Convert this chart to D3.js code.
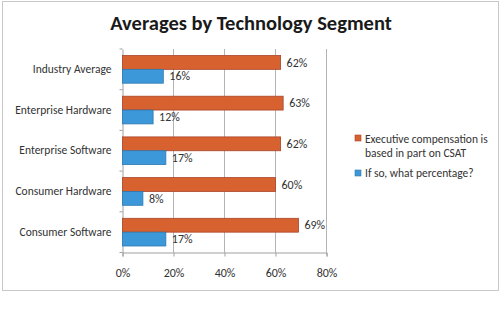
<!DOCTYPE html>
<html>
<head lang="en">
    <meta charset="UTF-8">
    <title>Averages by Technology Segment</title>
    <script type="text/javascript" src="https://cdnjs.cloudflare.com/ajax/libs/d3/7.8.5/d3.min.js"></script>
    <style>
        body { margin: 0; background: #fff; }
        svg { font-family: Carlito, Lato, "Open Sans", sans-serif; }
    </style>
</head>
<body>
<svg width="500" height="333"></svg>

<script>
    // categories, top to bottom
    var segments = ["Industry Average", "Enterprise Hardware", "Enterprise Software", "Consumer Hardware", "Consumer Software"];
    var csatBased = [62, 63, 62, 60, 69];
    var csatPercent = [16, 12, 17, 8, 17];
    var seriesNames = ["Executive compensation is based in part on CSAT", "If so, what percentage?"];
    var xTicks = [0, 20, 40, 60, 80];

    var colors = ["#d8622f", "#3c98d8"];
    var strokes = ["#a9442a", "#2d78b0"];

    var svg = d3.select("svg");

    // outer frame
    svg.append("rect")
            .attr("x", 2.5).attr("y", 1.5)
            .attr("width", 496).attr("height", 289)
            .attr("fill", "#fff")
            .attr("stroke", "#c8c8c8");

    svg.append("text")
            .attr("x", 251).attr("y", 30)
            .attr("text-anchor", "middle")
            .style("font-size", "20.5px")
            .style("font-weight", "bold")
            .attr("fill", "#1a1a1a")
            .text("Averages by Technology Segment");

    var plotLeft = 122.5, plotRight = 326.5, plotTop = 49, plotBottom = 252.5;

    var x = d3.scaleLinear().domain([0, 80]).range([plotLeft, plotRight]);
    var y = d3.scaleBand().domain(segments).range([plotTop, plotBottom]);
    var inner = d3.scaleBand().domain([0, 1]).range([0, y.bandwidth()]).paddingOuter(0.47);

    // gridlines
    svg.append("g").selectAll("line")
            .data(xTicks.slice(1))
            .enter().append("line")
            .attr("x1", function (d) { return x(d); })
            .attr("x2", function (d) { return x(d); })
            .attr("y1", plotTop).attr("y2", plotBottom)
            .attr("stroke", "#b4b4b4");

    var xAxis = svg.append("g")
            .attr("transform", "translate(0," + plotBottom + ")")
            .call(d3.axisBottom(x).tickValues(xTicks).tickSize(4).tickPadding(12)
                    .tickFormat(function (d) { return d + "%"; }));
    xAxis.select(".domain").attr("stroke", "#a0a0a0");
    xAxis.selectAll(".tick line").attr("stroke", "#a0a0a0");
    xAxis.selectAll("text").style("font-size", "12px").attr("fill", "#333");
    xAxis.attr("font-family", null).attr("font-size", null);

    var yAxis = svg.append("g")
            .attr("transform", "translate(" + plotLeft + ",0)")
            .call(d3.axisLeft(y).tickSize(0).tickPadding(11));
    yAxis.select(".domain").attr("stroke", "#a0a0a0");
    yAxis.selectAll("text").style("font-size", "11.5px").attr("fill", "#333");
    yAxis.attr("font-family", null).attr("font-size", null);

    // small ticks between categories
    svg.append("g").selectAll("line")
            .data(d3.range(segments.length + 1))
            .enter().append("line")
            .attr("x1", plotLeft - 3).attr("x2", plotLeft)
            .attr("y1", function (i) { return plotTop + i * y.step(); })
            .attr("y2", function (i) { return plotTop + i * y.step(); })
            .attr("stroke", "#a0a0a0");

    var series = [csatBased, csatPercent];
    series.forEach(function (vals, s) {
        var g = svg.append("g");
        g.selectAll("rect")
                .data(vals)
                .enter().append("rect")
                .attr("x", x(0))
                .attr("y", function (d, i) { return y(segments[i]) + inner(s); })
                .attr("width", function (d) { return x(d) - x(0); })
                .attr("height", inner.bandwidth())
                .attr("fill", colors[s])
                .attr("stroke", strokes[s])
                .attr("stroke-width", 0.8);
        g.selectAll("text")
                .data(vals)
                .enter().append("text")
                .attr("x", function (d) { return x(d) + 6; })
                .attr("y", function (d, i) { return y(segments[i]) + inner(s) + inner.bandwidth() / 2; })
                .attr("dy", "0.35em")
                .style("font-size", "12px")
                .attr("fill", "#333")
                .text(function (d) { return d + "%"; });
    });

    // legend
    var legend = svg.append("g").attr("transform", "translate(355,0)");
    legend.append("rect").attr("x", 0).attr("y", 135).attr("width", 6).attr("height", 6)
            .attr("fill", colors[0]).attr("stroke", strokes[0]).attr("stroke-width", 0.6);
    legend.append("text").attr("x", 10).attr("y", 143).style("font-size", "11.5px").attr("fill", "#333")
            .text("Executive compensation is");
    legend.append("text").attr("x", 10).attr("y", 157).style("font-size", "11.5px").attr("fill", "#333")
            .text("based in part on CSAT");
    legend.append("rect").attr("x", 0).attr("y", 170).attr("width", 6).attr("height", 6)
            .attr("fill", colors[1]).attr("stroke", strokes[1]).attr("stroke-width", 0.6);
    legend.append("text").attr("x", 10).attr("y", 177).style("font-size", "11.5px").attr("fill", "#333")
            .text(seriesNames[1]);
</script>
</body>
</html>
